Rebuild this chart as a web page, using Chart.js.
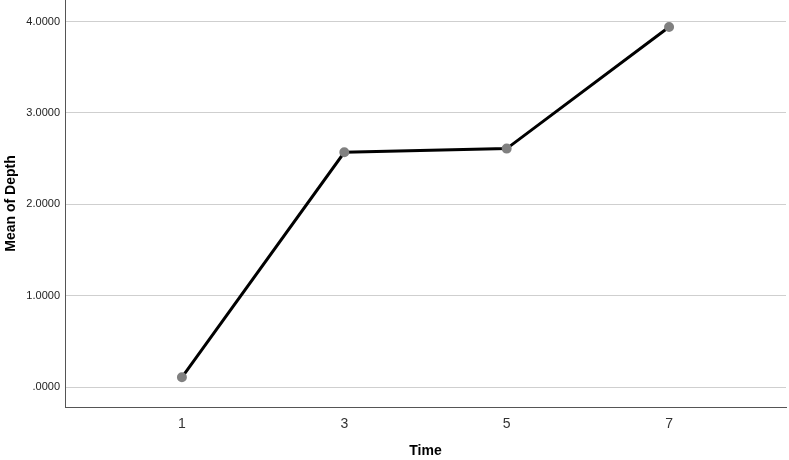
<!DOCTYPE html>
<html>
<head>
<meta charset="utf-8">
<script src="https://cdn.jsdelivr.net/npm/chart.js@4/dist/chart.umd.min.js"></script>
<style>
    html, body { margin: 0; padding: 0; background: #fff; }
    #wrap { width: 789px; height: 460px; }
</style>
</head>
<body>
<div id="wrap"><canvas id="depthChart" width="789" height="460"></canvas></div>
<script>
// Mean depth by time point
const times = [1, 3, 5, 7];
const meanDepth = [0.11, 2.57, 2.61, 3.94];
const yTicks = [0, 1, 2, 3, 4];

const FONT = '"Liberation Sans", Arial, sans-serif';

function formatDepth(v) {
    // SPSS style: ".0000" for zero
    const s = v.toFixed(4);
    return s.startsWith('0') ? s.slice(1) : s;
}

const ctx = document.getElementById('depthChart').getContext('2d');
new Chart(ctx, {
    type: 'line',
    data: {
        datasets: [{
            data: times.map((t, i) => ({ x: t, y: meanDepth[i] })),
            borderColor: '#000',
            borderWidth: 3,
            pointBackgroundColor: '#808080',
            pointBorderColor: '#808080',
            pointRadius: 3.5,
            tension: 0
        }]
    },
    options: {
        responsive: false,
        animation: false,
        layout: { autoPadding: false, padding: { top: 0, right: 3, left: 0, bottom: 0 } },
        plugins: {
            legend: { display: false },
            tooltip: { enabled: false }
        },
        scales: {
            x: {
                type: 'linear',
                min: -0.44,
                max: 8.44,
                afterBuildTicks: axis => { axis.ticks = times.map(v => ({ value: v })); },
                afterFit: axis => {
                    axis.height = 53;
                    axis.paddingLeft = 0;
                    axis.paddingRight = 0;
                },
                grid: { display: false, drawTicks: false },
                border: { display: true, color: '#555', width: 1 },
                ticks: {
                    color: '#333',
                    font: { family: FONT, size: 14 },
                    padding: 9,
                    maxRotation: 0,
                    callback: v => String(v)
                },
                title: {
                    display: true,
                    text: 'Time',
                    color: '#000',
                    font: { family: FONT, size: 14, weight: 'bold' },
                    padding: { top: 9, bottom: 0 }
                }
            },
            y: {
                min: -0.215,
                max: 4.235,
                afterBuildTicks: axis => { axis.ticks = yTicks.map(v => ({ value: v })); },
                afterFit: axis => {
                    axis.width = 65;
                    axis.paddingTop = 0;
                    axis.paddingBottom = 0;
                },
                grid: { color: '#cfcfcf', lineWidth: 1, drawTicks: false },
                border: { display: true, color: '#555', width: 1 },
                ticks: {
                    color: '#222',
                    font: { family: FONT, size: 11 },
                    padding: 5,
                    callback: v => formatDepth(v)
                },
                title: {
                    display: true,
                    text: 'Mean of Depth',
                    color: '#000',
                    font: { family: FONT, size: 14, weight: 'bold' },
                    padding: { top: 3, bottom: 0 }
                }
            }
        }
    }
});
</script>
</body>
</html>
